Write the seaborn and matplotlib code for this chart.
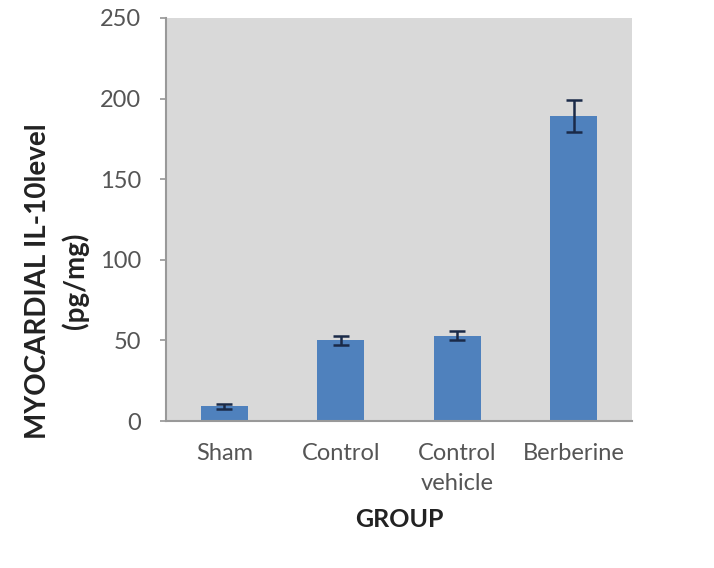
import matplotlib
matplotlib.use("Agg")
import matplotlib.pyplot as plt
import seaborn as sns
import pandas as pd
import numpy as np

groups = ["Sham", "Control", "Control\nvehicle", "Berberine"]
values = [9, 50, 53, 189]
errors = [1.5, 3, 3, 10]
yticks = [0, 50, 100, 150, 200, 250]

sns.set_theme(style="white")
plt.rcParams['font.family'] = ['Lato', 'DejaVu Sans']

df = pd.DataFrame({"group": groups, "value": values})

fig = plt.figure(figsize=(7.14, 5.68), dpi=100)
ax = fig.add_axes([166/714, 1-421/568, (632-166)/714, (421-18)/568])
ax.set_facecolor("#d9d9d9")

sns.barplot(data=df, x="group", y="value", color="#4f81bd", width=0.4,
            saturation=1, errorbar=None, linewidth=0, ax=ax)
ax.errorbar(np.arange(len(groups)), values, yerr=errors, fmt="none",
            ecolor="#1a2a48", elinewidth=1.8, capsize=6, capthick=1.8)

ax.set_ylim(0, 250)
ax.set_xlim(-0.5, len(groups)-0.5)
ax.set_yticks(yticks)
ax.set_yticklabels([str(t) for t in yticks], color="#555555", fontsize=17)
ax.set_xticks(range(len(groups)))
ax.set_xticklabels(groups, color="#555555", fontsize=17, linespacing=1.5)
ax.tick_params(axis="x", length=0, pad=16)
ax.tick_params(axis="y", length=4, color="#999999", direction="out", left=True, pad=14)

for s in ["top", "right"]:
    ax.spines[s].set_visible(False)
for s in ["left", "bottom"]:
    ax.spines[s].set_color("#999999")
    ax.spines[s].set_linewidth(1.5)

ax.set_xlabel("GROUP", fontsize=18, fontweight="bold", color="#222222", labelpad=10)
ax.set_ylabel("")
fig.text(57/714, 1-281/568, "MYOCARDIAL IL-10level\n(pg/mg)", fontsize=20,
         fontweight="bold", color="#222222", rotation=90, ha="center",
         va="center", linespacing=1.45)

fig.savefig("out.png", dpi=100, facecolor="white")
